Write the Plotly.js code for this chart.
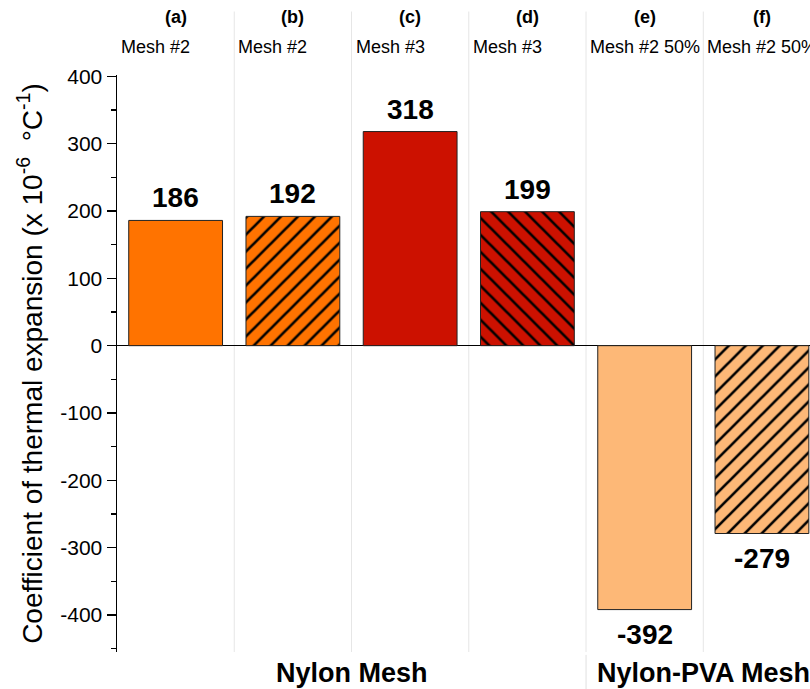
<!DOCTYPE html>
<html>
<head>
<meta charset="utf-8">
<script src="https://cdn.plot.ly/plotly-3.0.1.min.js"></script>
<style>html,body{margin:0;padding:0;background:#fff;}#chart{width:810px;height:689px;}</style>
</head>
<body>
<div id="chart"></div>
<script>
const categories = ['a', 'b', 'c', 'd', 'e', 'f'];
const panelLabels = ['(a)', '(b)', '(c)', '(d)', '(e)', '(f)'];
const meshLabels = ['Mesh #2', 'Mesh #2', 'Mesh #3', 'Mesh #3', 'Mesh #2 50%', 'Mesh #2 50%'];
const values = [186, 192, 318, 199, -392, -279];
const fillColors = ['#FF7300', '#FF7300', '#CC1100', '#CC1100', '#FDB877', '#FDB877'];
const hatchShapes = ['', '/', '', '\\', '', '/'];
const groupNames = ['Nylon Mesh', 'Nylon-PVA Mesh'];
const groupCenters = [1.5, 4.5];
const yTickVals = [-400, -300, -200, -100, 0, 100, 200, 300, 400];
const yTickText = ['-400', '-300', '-200', '-100', '0', '100', '200', '300', '400'];

const FONT = 'Arial, "Liberation Sans", sans-serif';

const traces = categories.map((c, i) => {
  const marker = {color: fillColors[i], line: {color: '#222', width: 1}};
  if (hatchShapes[i]) {
    marker.pattern = {shape: hatchShapes[i], fgcolor: '#000000', bgcolor: fillColors[i],
      fgopacity: 1, size: 12, solidity: 0.22, fillmode: 'replace'};
  }
  return {type: 'bar', x: [c], y: [values[i]], width: 0.8, marker: marker, hoverinfo: 'skip'};
});

const annotations = [];
values.forEach((v, i) => {
  annotations.push({
    xref: 'x', yref: 'y', x: i, y: v, text: String(v), showarrow: false,
    yanchor: v >= 0 ? 'bottom' : 'top', yshift: v >= 0 ? 5 : -7,
    font: {family: FONT, size: 28, color: '#000', weight: 'bold'}
  });
  annotations.push({
    xref: 'x', yref: 'paper', x: i, y: 1.1005, text: panelLabels[i], showarrow: false,
    yanchor: 'middle', font: {family: FONT, size: 18, color: '#000', weight: 'bold'}
  });
  annotations.push({
    xref: 'x', yref: 'paper', x: i - 0.5, y: 1.0485, text: meshLabels[i], showarrow: false,
    xanchor: 'left', xshift: 2, yanchor: 'middle', font: {family: FONT, size: 18, color: '#000'}
  });
});
groupNames.forEach((g, i) => {
  annotations.push({
    xref: 'x', yref: 'paper', x: groupCenters[i], y: -0.036, text: g, showarrow: false,
    yanchor: 'middle', font: {family: FONT, size: 27, color: '#000', weight: 'bold'}
  });
});

const shapes = [];
for (let i = 0; i < categories.length - 1; i++) {
  shapes.push({type: 'line', xref: 'x', yref: 'paper', x0: i + 0.5, x1: i + 0.5, y0: 0, y1: 1.11,
    line: {color: '#E6E6E6', width: 1}, layer: 'below'});
}
shapes.push({type: 'line', xref: 'x', yref: 'paper', x0: 3.5, x1: 3.5, y0: -0.005, y1: -0.07,
  line: {color: '#E0E0E0', width: 1}});

const layout = {
  width: 810, height: 689,
  margin: {l: 117, r: 0, t: 75, b: 37},
  paper_bgcolor: '#fff', plot_bgcolor: '#fff',
  showlegend: false,
  barmode: 'overlay',
  xaxis: {
    type: 'category', categoryorder: 'array', categoryarray: categories,
    range: [-0.5, 5.41], showticklabels: false, showgrid: false,
    zeroline: false, showline: false, ticks: '', fixedrange: true
  },
  yaxis: {
    range: [-455, 402], tickvals: yTickVals, ticktext: yTickText,
    showgrid: false, zeroline: true, zerolinecolor: '#000', zerolinewidth: 1.5,
    showline: true, linecolor: '#000', linewidth: 1.5,
    ticks: 'outside', ticklen: 9, tickwidth: 1.5, tickcolor: '#000',
    minor: {dtick: 50, ticks: 'outside', ticklen: 5, tickwidth: 1.5, tickcolor: '#000', showgrid: false},
    tickfont: {family: FONT, size: 21, color: '#000'},
    title: {text: 'Coefficient of thermal expansion (x 10<sup>-6</sup>  °C<sup>-1</sup>)', standoff: 9,
      font: {family: FONT, size: 28, color: '#000'}},
    automargin: false
  },
  annotations: annotations,
  shapes: shapes
};

Plotly.newPlot('chart', traces, layout, {displayModeBar: false, staticPlot: true});
</script>
</body>
</html>
